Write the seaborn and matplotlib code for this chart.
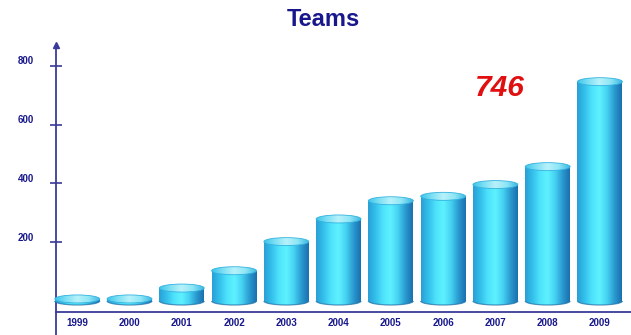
import numpy as np
import pandas as pd
import matplotlib
matplotlib.use("Agg")
import matplotlib.pyplot as plt
import seaborn as sns
from matplotlib.colors import LinearSegmentedColormap
from matplotlib.patches import Ellipse, Rectangle, Arc
from matplotlib.transforms import ScaledTranslation

# ---- data ----
years = ["1999", "2000", "2001", "2002", "2003", "2004",
         "2005", "2006", "2007", "2008", "2009"]
teams = [7, 7, 44, 103, 202, 279, 341, 356, 396, 457, 746]
y_ticks = [200, 400, 600, 800]
highlight_label = "746"
title = "Teams"

df = pd.DataFrame({"year": years, "teams": teams})

# ---- figure geometry (pixels) ----
W, H = 631, 335
DPI = 100
PX_PER_UNIT = 0.294          # vertical pixels per team
ZERO_PX = 301                # baseline, pixels from top
X0_PX, STEP_PX = 77.25, 52.27  # first category centre and spacing
BAR_W = 0.86
ELL_PX = 8.0                 # visible height of the cylinder caps

navy = "#18188c"
axis_col = "#3a3a98"

sns.set_theme(style="white")
plt.rcParams["font.family"] = ["Liberation Sans", "DejaVu Sans"]

fig = plt.figure(figsize=(W / DPI, H / DPI), dpi=DPI)
fig.patch.set_facecolor("white")
ax = fig.add_axes([0, 0, 1, 1])
ax.set_facecolor("white")

sns.barplot(data=df, x="year", y="teams", width=BAR_W, ax=ax,
            color="#40c8e8", saturation=1, errorbar=None)

ylo = -(H - ZERO_PX) / PX_PER_UNIT
yhi = ZERO_PX / PX_PER_UNIT
ax.set_xlim(-X0_PX / STEP_PX, (W - X0_PX) / STEP_PX)
ax.set_ylim(ylo, yhi)
ell_h = ELL_PX / PX_PER_UNIT

# cylinder shading
body_cmap = LinearSegmentedColormap.from_list(
    "body", ["#2a9ed6", "#33c0ea", "#4fe2fb", "#5ef2ff", "#46d2f2", "#2a9ad0", "#1a6fae"])
cap_cmap = LinearSegmentedColormap.from_list(
    "cap", ["#3cc4ea", "#7ee0f4", "#b8f2fa", "#8ee6f6", "#3cb8e2"])
grad = np.linspace(0, 1, 256).reshape(1, -1)

for patch in list(ax.patches):
    x = patch.get_x()
    w = patch.get_width()
    h = patch.get_height()
    patch.set_visible(False)
    xc = x + w / 2

    # side of the cylinder
    rect = Rectangle((x, 0), w, h, transform=ax.transData)
    im = ax.imshow(grad, cmap=body_cmap, extent=[x, x + w, -ell_h, h],
                   aspect="auto", zorder=3, interpolation="bicubic")
    im.set_clip_path(rect)

    bottom = Ellipse((xc, 0), w, ell_h, transform=ax.transData)
    im2 = ax.imshow(grad, cmap=body_cmap, extent=[x, x + w, -ell_h, h],
                    aspect="auto", zorder=3, interpolation="bicubic")
    im2.set_clip_path(bottom)
    ax.add_patch(Arc((xc, 0), w, ell_h, theta1=180, theta2=360,
                     edgecolor="#1d6fa6", lw=0.9, alpha=0.7, zorder=3.5))

    # top cap
    top = Ellipse((xc, h), w, ell_h, transform=ax.transData)
    im3 = ax.imshow(grad, cmap=cap_cmap,
                    extent=[x, x + w, h - ell_h / 2, h + ell_h / 2],
                    aspect="auto", zorder=4, interpolation="bicubic")
    im3.set_clip_path(top)
    ax.add_patch(Ellipse((xc, h), w, ell_h, fill=False,
                         edgecolor="#34b2e0", lw=0.6, zorder=4.5))

# ---- axes lines ----
yaxis_x = (56 - X0_PX) / STEP_PX
xaxis_y = -(312 - ZERO_PX) / PX_PER_UNIT
arrow_top = (ZERO_PX - 45) / PX_PER_UNIT

for s in ["top", "right"]:
    ax.spines[s].set_visible(False)
ax.spines["left"].set_position(("data", yaxis_x))
ax.spines["left"].set_bounds(ylo, arrow_top)
ax.spines["left"].set_color(axis_col)
ax.spines["left"].set_linewidth(1.3)
ax.spines["bottom"].set_position(("data", xaxis_y))
ax.spines["bottom"].set_bounds(yaxis_x, (W - X0_PX) / STEP_PX)
ax.spines["bottom"].set_color(axis_col)
ax.spines["bottom"].set_linewidth(1.3)
ax.plot([yaxis_x], [arrow_top], marker="^", color=axis_col,
        markersize=5, clip_on=False, zorder=6)

ax.set_yticks(y_ticks)
ax.set_yticklabels([str(v) for v in y_ticks])
ax.tick_params(axis="y", direction="inout", length=8, width=1.2,
               color=axis_col, pad=12, labelsize=7, labelcolor=navy, left=True)
ax.tick_params(axis="x", length=0, pad=4, labelsize=7, labelcolor=navy, bottom=False)
for lab in ax.get_yticklabels() + ax.get_xticklabels():
    lab.set_fontweight("bold")
for lab in ax.get_yticklabels():
    lab.set_transform(lab.get_transform() +
                      ScaledTranslation(0, 4 / 72, fig.dpi_scale_trans))
ax.set_xlabel("")
ax.set_ylabel("")
ax.grid(False)

# ---- titles ----
fig.text(323 / W, 1 - 20 / H, title, ha="center", va="center",
         fontsize=17, fontweight="bold", color=navy)
fig.text(500 / W, 1 - 88 / H, highlight_label, ha="center", va="center",
         fontsize=21.5, fontweight="bold", fontstyle="italic", color="#e01010")

fig.savefig("out.png", dpi=DPI, facecolor="white")
